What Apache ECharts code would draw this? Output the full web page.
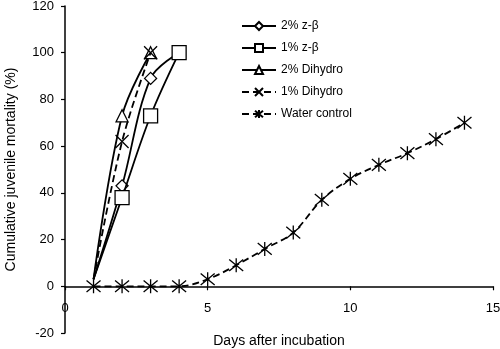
<!DOCTYPE html>
<html>
<head>
<meta charset="utf-8">
<script src="https://cdn.jsdelivr.net/npm/echarts@6/dist/echarts.min.js"></script>
<style>html,body{margin:0;padding:0;background:#fff}#c{width:500px;height:349px}</style>
</head>
<body>
<div id="c"></div>
<script>
var seriesNames = ['2% z-\u03B2', '1% z-\u03B2', '2% Dihydro', '1% Dihydro', 'Water control'];
var daysTreat1 = [1, 2, 3, 4];
var daysTreat2 = [1, 2, 3];
var daysWater = [1, 2, 3, 4, 5, 6, 7, 8, 9, 10, 11, 12, 13, 14];
var zb2 = [3, 43, 89, 100];
var zb1 = [3, 38, 73, 100];
var dh2 = [3, 73, 100];
var dh1 = [3, 62, 100];
var water = [0, 0, 0, 0, 3, 9, 16, 23, 37, 46, 52, 57, 63, 70];
var xTicks = [0, 5, 10, 15];
var yTicks = [-20, 0, 20, 40, 60, 80, 100, 120];

function pairs(xs, ys, hideFirst) {
  return xs.map(function (x, i) {
    var p = { value: [x, ys[i]] };
    if (hideFirst && i === 0) p.symbol = 'none';
    return p;
  });
}

var FONT = 'Liberation Sans, Arial, sans-serif';
var symX = 'path://M0,0L10,10M10,0L0,10';
var symAst = 'path://M0,0L10,10M10,0L0,10M5,-1L5,11';

function mk(name, data, symbol, size, dashed, z) {
  return {
    name: name, type: 'line', data: data, smooth: 0.35, z: z,
    symbol: symbol, symbolSize: size, showSymbol: true,
    lineStyle: { color: '#000', width: 1.8, type: dashed ? [7, 4] : 'solid' },
    itemStyle: { color: '#fff', borderColor: '#000', borderWidth: 1.3 },
    emphasis: { disabled: true },
    animation: false
  };
}

var chart = echarts.init(document.getElementById('c'), null, { renderer: 'canvas' });
chart.setOption({
  animation: false,
  backgroundColor: '#fff',
  grid: { left: 65, right: 7, top: 6, bottom: 16, containLabel: false, outerBoundsMode: 'none' },
  legend: {
    orient: 'vertical', left: 236, top: 15, itemWidth: 34, itemHeight: 10, itemGap: 10,
    textStyle: { fontFamily: FONT, fontSize: 12, color: '#000' },
    data: seriesNames
  },
  xAxis: {
    type: 'value', min: xTicks[0], max: xTicks[xTicks.length - 1], interval: 5,
    name: 'Days after incubation', nameLocation: 'middle', nameGap: 1,
    nameTextStyle: { fontFamily: FONT, fontSize: 14, color: '#000' },
    axisLine: { onZero: true, lineStyle: { color: '#000', width: 1.5 } },
    axisTick: { show: true, inside: false, length: 4, lineStyle: { color: '#000', width: 1.2 } },
    axisLabel: { fontFamily: FONT, fontSize: 13, color: '#000', margin: -31 },
    splitLine: { show: false }
  },
  yAxis: {
    type: 'value', min: yTicks[0], max: yTicks[yTicks.length - 1], interval: 20,
    name: 'Cumulative juvenile mortality (%)', nameLocation: 'middle', nameGap: 47,
    nameTextStyle: { fontFamily: FONT, fontSize: 14, color: '#000' },
    axisLine: { show: true, onZero: false, lineStyle: { color: '#000', width: 1.5 } },
    axisTick: { show: true, inside: false, length: 4, lineStyle: { color: '#000', width: 1.2 } },
    axisLabel: { fontFamily: FONT, fontSize: 13, color: '#000', margin: 11 },
    splitLine: { show: false }
  },
  series: [
    mk(seriesNames[0], pairs(daysTreat1, zb2, true), 'diamond', 12, false, 3),
    mk(seriesNames[1], pairs(daysTreat1, zb1, true), 'rect', 14, false, 4),
    mk(seriesNames[2], pairs(daysTreat2, dh2, true), 'triangle', 12, false, 3),
    mk(seriesNames[3], pairs(daysTreat2, dh1, true), symX, 13, true, 5),
    mk(seriesNames[4], pairs(daysWater, water, false), symAst, 14, true, 2)
  ]
});
</script>
</body>
</html>
